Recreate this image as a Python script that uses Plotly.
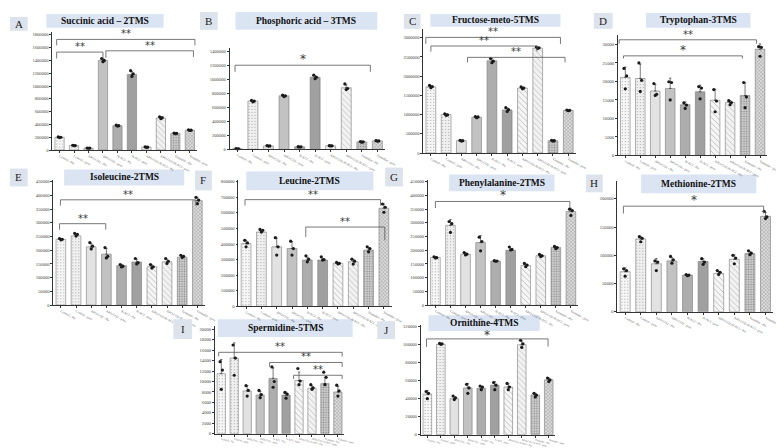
import numpy as np
import plotly.graph_objects as go

W, H = 784, 448

categories = ["Control - Pte", "Control - pore", "APO-CO2 - Pte", "APO-CO2 - pore",
              "N-ACI - Pte", "N-ACI - pore", "APO-CO2-N-ACI - Pte", "APO-CO2-N-ACI - pore",
              "Tiamulin - Pte", "Tiamulin - pore"]

# ---- A: Succinic acid
succinic_mean = [200000, 70000, 30000, 1400000, 380000, 1180000, 45000, 500000, 260000, 310000]
succinic_pts = [[205000, 200000, 195000], [75000, 70000, 68000], [32000, 30000, 28000],
                [1430000, 1400000, 1380000], [390000, 380000, 375000], [1240000, 1190000, 1150000],
                [48000, 45000, 42000], [520000, 505000, 490000], [265000, 260000, 255000],
                [315000, 310000, 305000]]
succinic_brackets = [(-0.2, 9.35, 1728000, 1635000, 1635000, "**"),
                     (-0.2, 3.0, 1530000, 1430000, 1430000, "**"),
                     (3.2, 9.25, 1550000, 1440000, 1455000, "**")]

# ---- B: Phosphoric acid
phosphoric_mean = [10000, 690000, 50000, 765000, 38000, 1030000, 52000, 880000, 108000, 122000]
phosphoric_pts = [[12000, 10000, 8000], [700000, 690000, 680000], [55000, 50000, 48000],
                  [775000, 765000, 755000], [40000, 38000, 35000], [1060000, 1030000, 1010000],
                  [55000, 52000, 50000], [935000, 870000, 855000], [112000, 108000, 104000],
                  [125000, 122000, 119000]]
phosphoric_brackets = [(-0.15, 8.55, 1202000, 1108000, 1108000, "*")]

# ---- C: Fructose
fructose_mean = [1720000, 1000000, 320000, 930000, 2400000, 1120000, 1690000, 2730000, 320000, 1110000]
fructose_pts = [[1760000, 1730000, 1700000], [1020000, 990000, 980000], [330000, 320000, 310000],
                [950000, 940000, 920000], [2460000, 2390000, 2350000], [1180000, 1130000, 1080000],
                [1720000, 1690000, 1670000], [2760000, 2740000, 2720000], [330000, 320000, 310000],
                [1120000, 1110000, 1100000]]
fructose_brackets = [(-0.33, 8.49, 3010000, 2840000, 2840000, "**"),
                     (0.0, 6.95, 2785000, 2640000, 2640000, "**"),
                     (2.4, 8.79, 2490000, 2360000, 2360000, "**")]

# ---- D: Tryptophan
tryptophan_mean = [21100, 20800, 17400, 18100, 13700, 17200, 14900, 14300, 16200, 28700]
tryptophan_pts = [[23500, 21500, 18000], [25000, 20300, 17300], [19400, 16500, 16200],
                  [19900, 19700, 15000], [14200, 13600, 12700], [18600, 18200, 15300],
                  [17800, 14700, 11800], [14800, 14300, 13700], [19700, 15800, 12900],
                  [29400, 29200, 26800]]
tryptophan_brackets = [(-0.41, 8.76, 31250, 30200, 30200, "**"),
                       (-0.12, 7.82, 26900, 26200, 26200, "*")]

# ---- E: Isoleucine
isoleucine_mean = [240000, 252500, 212500, 186000, 144000, 157000, 140000, 158000, 175000, 381000]
isoleucine_pts = [[243000, 240000, 238000], [262000, 258000, 252000], [228000, 215000, 205000],
                  [210000, 178000, 172000], [148000, 142000, 139000], [170000, 155000, 150000],
                  [148000, 140000, 135000], [170000, 160000, 152000], [182000, 178000, 174000],
                  [393000, 383000, 370000]]
isoleucine_brackets = [(-0.03, 8.9, 384000, 363000, 363000, "**"),
                       (-0.09, 2.96, 297000, 275000, 275000, "**")]

# ---- F: Leucine
leucine_mean = [403000, 477000, 382000, 371000, 297000, 297000, 276000, 286000, 361000, 630000]
leucine_pts = [[424000, 407000, 382000], [494000, 488000, 477000], [441000, 382000, 329000],
               [418000, 371000, 329000], [324000, 303000, 286000], [318000, 300000, 297000],
               [282000, 276000, 272000], [303000, 290000, 271000], [382000, 371000, 350000],
               [657000, 636000, 604000]]
leucine_brackets = [(-0.07, 8.78, 685000, 647000, 647000, "**"),
                    (3.9, 9.06, 509000, 445000, 424000, "**")]

# ---- G: Phenylalanine
phenylalanine_mean = [174000, 291000, 186000, 228000, 161000, 200000, 144000, 180000, 210000, 341000]
phenylalanine_pts = [[176000, 173000, 172000], [305000, 297000, 265000], [192000, 186000, 183000],
                     [248000, 232000, 198000], [162000, 161000, 160000], [212000, 203000, 201000],
                     [152000, 146000, 140000], [185000, 180000, 177000], [214000, 210000, 206000],
                     [350000, 345000, 327000]]
phenylalanine_brackets = [(0.0, 8.93, 378000, 354000, 354000, "*")]

# ---- H: Methionine
methionine_mean = [71000, 129000, 85000, 90000, 65000, 89000, 68000, 93000, 103000, 169000]
methionine_pts = [[76000, 73000, 63000], [133000, 130000, 124000], [90000, 88000, 73000],
                  [98000, 92000, 86000], [66000, 65000, 64000], [94000, 88000, 84000],
                  [73000, 70000, 66000], [100000, 95000, 85000], [108000, 104000, 101000],
                  [178000, 168000, 165000]]
methionine_brackets = [(-0.11, 8.88, 187000, 174000, 174000, "*")]

# ---- I: Spermidine
spermidine_mean = [11500, 14500, 8200, 7400, 10600, 7400, 10200, 8700, 9600, 8000]
spermidine_pts = [[13800, 12200, 8500], [17000, 14500, 11200], [9200, 8300, 7200],
                  [8300, 7500, 6900], [12800, 10000, 8900], [7900, 7600, 6800],
                  [12500, 10100, 9400], [9400, 8800, 8500], [11800, 10800, 9400],
                  [9300, 8200, 7200]]
spermidine_brackets = [(-0.2, 9.33, 15600, 14800, 14800, "**"),
                       (3.73, 9.33, 13650, 12800, 12800, "**"),
                       (5.58, 9.33, 11200, 10500, 10500, "**")]

# ---- J: Ornithine
ornithine_mean = [45000, 100500, 40000, 52000, 51500, 55000, 53000, 100000, 44000, 61000]
ornithine_pts = [[48000, 46000, 40000], [101500, 101000, 100500], [43000, 41000, 39000],
                 [56000, 52000, 46000], [54000, 53000, 50000], [58000, 55000, 50000],
                 [57000, 53000, 50000], [105000, 101000, 97000], [46000, 44000, 42000],
                 [63000, 61000, 59000]]
ornithine_brackets = [(-0.06, 8.95, 106500, 97600, 98000, "*")]

# ---- styling of the 10 groups
bar_colors = ["#f6f6f6", "#f0f0f0", "#e2e2e2", "#c2c2c2", "#adadad", "#a0a0a0",
              "#f6f6f6", "#f2f2f2", "#d0d0d0", "#dcdcdc"]
bar_patterns = [".", ".", "", "", "", "", "\\", "\\", ".", "x"]
pattern_sizes = [3, 3, 4, 4, 4, 4, 4, 4, 2.5, 2.5]
pattern_solid = [0.12, 0.12, 0.2, 0.2, 0.2, 0.2, 0.15, 0.12, 0.3, 0.3]

panels = [
    dict(letter="A", title="Succinic acid – 2TMS", mean=succinic_mean, pts=succinic_pts,
         br=succinic_brackets, ymax=1850000, dtick=200000,
         xd=(45, 192), yd=(22.8, 142.3), lbox=(2, 8, 20, 22), tbox=(39, 5, 158, 19)),
    dict(letter="B", title="Phosphoric acid – 3TMS", mean=phosphoric_mean, pts=phosphoric_pts,
         br=phosphoric_brackets, ymax=1450000, dtick=200000,
         xd=(225, 383), yd=(39.2, 141.7), lbox=(195, 3, 213, 21), tbox=(231, 3, 375, 21)),
    dict(letter="C", title="Fructose-meto-5TMS", mean=fructose_mean, pts=fructose_pts,
         br=fructose_brackets, ymax=3230000, dtick=500000,
         xd=(421.7, 576.7), yd=(20.1, 145.3), lbox=(402, 5, 419, 20), tbox=(429, 5, 561, 18)),
    dict(letter="D", title="Tryptophan-3TMS", mean=tryptophan_mean, pts=tryptophan_pts,
         br=tryptophan_brackets, ymax=32500, dtick=5000,
         xd=(619.3, 771.3), yd=(26.4, 147.7), lbox=(595, 4, 614, 20), tbox=(648, 4, 754, 19)),
    dict(letter="E", title="Isoleucine-2TMS", mean=isoleucine_mean, pts=isoleucine_pts,
         br=isoleucine_brackets, ymax=455000, dtick=50000,
         xd=(46, 200), yd=(172.9, 298.8), lbox=(2, 161, 20, 179), tbox=(57, 162, 179, 178)),
    dict(letter="F", title="Leucine-2TMS", mean=leucine_mean, pts=leucine_pts,
         br=leucine_brackets, ymax=810000, dtick=100000,
         xd=(234, 389.5), yd=(172.7, 300), lbox=(190, 163, 207, 183), tbox=(242, 164, 371, 183)),
    dict(letter="G", title="Phenylalanine-2TMS", mean=phenylalanine_mean, pts=phenylalanine_pts,
         br=phenylalanine_brackets, ymax=455000, dtick=50000,
         xd=(426.4, 579.3), yd=(172.9, 298.8), lbox=(383, 160, 401, 179), tbox=(448, 167, 555, 184)),
    dict(letter="H", title="Methionine-2TMS", mean=methionine_mean, pts=methionine_pts,
         br=methionine_brackets, ymax=232000, dtick=50000,
         xd=(618.8, 777.2), yd=(173.3, 305.5), lbox=(587, 167, 604, 185), tbox=(643, 167, 760, 186)),
    dict(letter="I", title="Spermidine-5TMS", mean=spermidine_mean, pts=spermidine_pts,
         br=spermidine_brackets, ymax=20600, dtick=2000,
         xd=(210, 341.6), yd=(320.1, 428.5), lbox=(168, 313, 187, 333), tbox=(213, 313, 350, 331)),
    dict(letter="J", title="Ornithine-4TMS", mean=ornithine_mean, pts=ornithine_pts,
         br=ornithine_brackets, ymax=122000, dtick=20000,
         xd=(419, 556), yd=(318.8, 429.5), lbox=(375, 315, 393, 333), tbox=(427, 309, 540, 325)),
]


def px(x):
    return x / W


def py(y):
    return 1 - y / H


fig = go.Figure()
shapes = []
annotations = []
layout_axes = {}
serif = "Liberation Serif"
star_font = "DejaVu Sans"
offsets = [-0.09, 0.09, 0.0]

for k, p in enumerate(panels):
    n = k + 1
    xa = "x" if n == 1 else f"x{n}"
    ya = "y" if n == 1 else f"y{n}"
    xkey = "xaxis" if n == 1 else f"xaxis{n}"
    ykey = "yaxis" if n == 1 else f"yaxis{n}"
    idx = list(range(len(categories)))
    pts = np.array(p["pts"], dtype=float)
    sd = pts.std(axis=1, ddof=1)
    bottom_row = p["letter"] in ("I", "J")

    fig.add_trace(go.Bar(
        x=idx, y=p["mean"], xaxis=xa, yaxis=ya, width=0.64,
        marker=dict(color=bar_colors, line=dict(color="#7a7a7a", width=0.6),
                    pattern=dict(shape=bar_patterns, fgcolor="#8c8c8c", size=pattern_sizes,
                                 solidity=pattern_solid)),
        error_y=dict(type="data", array=sd, arrayminus=[0] * len(sd), symmetric=False,
                     color="#222222", thickness=0.6, width=1.2),
        showlegend=False, hoverinfo="skip"))

    sx, sy = [], []
    for i in idx:
        for j, v in enumerate(p["pts"][i]):
            sx.append(i + offsets[j])
            sy.append(v)
    fig.add_trace(go.Scatter(x=sx, y=sy, xaxis=xa, yaxis=ya, mode="markers",
                             marker=dict(color="#1a1a1a", size=3.2),
                             showlegend=False, hoverinfo="skip", cliponaxis=False))

    layout_axes[xkey] = dict(
        domain=[px(p["xd"][0]), px(p["xd"][1])], anchor=ya, range=[-0.5, 9.5],
        tickvals=idx, ticktext=categories, tickangle=14 if bottom_row else 28,
        showline=True, linecolor="#333",
        linewidth=0.7, ticks="outside", ticklen=2, tickwidth=0.5, tickcolor="#333",
        tickfont=dict(family=serif, size=2.6 if bottom_row else 3.3, color="#555"),
        showgrid=False, zeroline=False)
    layout_axes[ykey] = dict(
        domain=[py(p["yd"][1]), py(p["yd"][0])], anchor=xa, range=[0, p["ymax"]],
        dtick=p["dtick"], tickformat="d", showline=True, linecolor="#333", linewidth=0.7,
        ticks="outside", ticklen=2, tickwidth=0.5, tickcolor="#333",
        tickfont=dict(family=serif, size=4.6, color="#444"), showgrid=False, zeroline=False)

    # significance brackets
    for (x0, x1, yl, ye0, ye1, lab) in p["br"]:
        shapes.append(dict(type="path", xref=xa, yref=ya,
                           path=f"M {x0},{ye0} L {x0},{yl} L {x1},{yl} L {x1},{ye1}",
                           line=dict(color="#555", width=0.8)))
        single = lab == "*"
        annotations.append(dict(x=(x0 + x1) / 2, y=yl, xref=xa, yref=ya, text=lab,
                                showarrow=False, yanchor="bottom",
                                yshift=(-5 if p["letter"] == "J" else -3) if single else -2,
                                font=dict(family=star_font, size=12 if single else 10,
                                          color="#3a3a3a")))

    # letter box
    lx0, ly0, lx1, ly1 = p["lbox"]
    shapes.append(dict(type="rect", xref="paper", yref="paper", x0=px(lx0), x1=px(lx1),
                       y0=py(ly1), y1=py(ly0), fillcolor="#dde3ec", line=dict(width=0)))
    annotations.append(dict(x=px((lx0 + lx1) / 2), y=py((ly0 + ly1) / 2), xref="paper", yref="paper",
                            text=p["letter"], showarrow=False, xanchor="center", yanchor="middle",
                            font=dict(family=serif, size=11, color="#222")))
    # title box
    tx0, ty0, tx1, ty1 = p["tbox"]
    shapes.append(dict(type="rect", xref="paper", yref="paper", x0=px(tx0), x1=px(tx1),
                       y0=py(ty1), y1=py(ty0), fillcolor="#dbe4f3", line=dict(width=0),
                       layer="below"))
    annotations.append(dict(x=px((tx0 + tx1) / 2), y=py((ty0 + ty1) / 2), xref="paper", yref="paper",
                            text=f"<b>{p['title']}</b>", showarrow=False, xanchor="center",
                            yanchor="middle", font=dict(family=serif, size=9.5, color="#111")))

fig.update_layout(
    width=W, height=H, autosize=False, margin=dict(l=0, r=0, t=0, b=0),
    paper_bgcolor="white", plot_bgcolor="rgba(0,0,0,0)",
    shapes=shapes, annotations=annotations, **layout_axes)

fig.write_html("out.html")
